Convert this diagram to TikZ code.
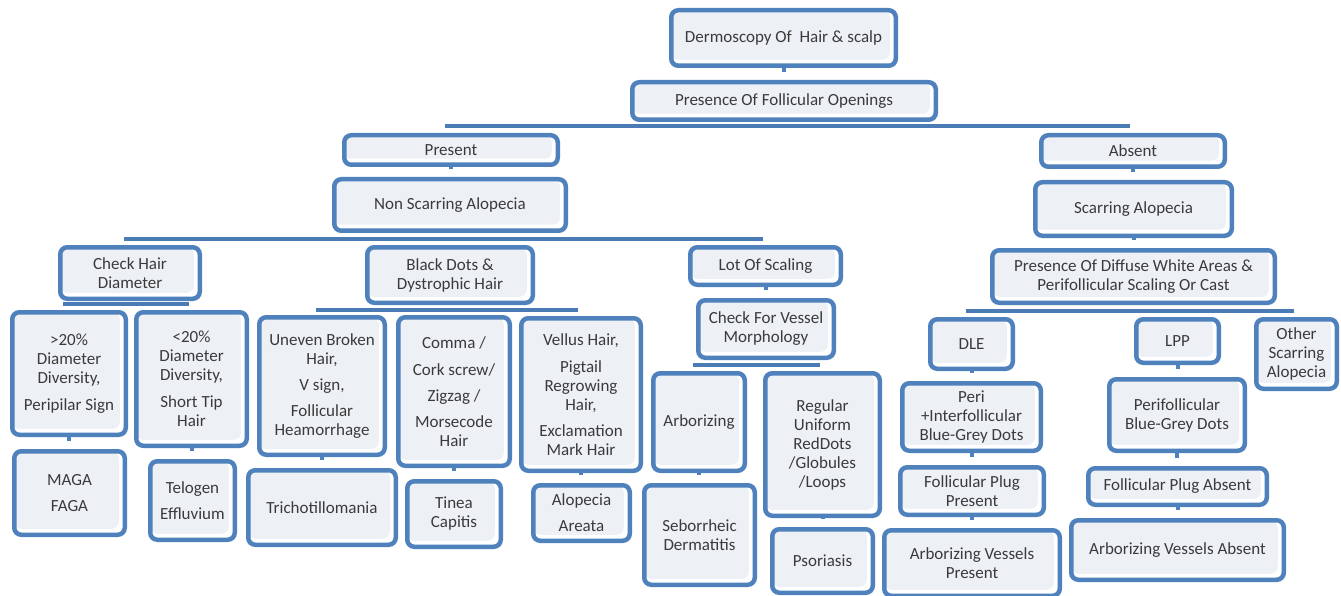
\documentclass[tikz,border=0pt]{standalone}
\usepackage{fontspec}
\setmainfont{Carlito}
\usetikzlibrary{calc}
\definecolor{bblue}{HTML}{4F81BD}
\definecolor{barblue}{HTML}{4A7BB5}
\definecolor{bfill}{HTML}{EDF1F6}
\definecolor{tgray}{HTML}{3A3A3A}
\tikzset{
  box/.style={draw=bblue, line width=4.5pt, rounded corners=7pt, fill=white,
    path picture={\fill[bfill] (path picture bounding box.north west) rectangle ([xshift=-6pt,yshift=6pt]path picture bounding box.south east);},
    align=center, text=tgray, inner sep=0pt, font=\fontsize{17}{19}\selectfont},
  conn/.style={draw=barblue, line width=4pt},
  stub/.style={draw=bblue, line width=4pt, shorten >=8pt}
}
\newcommand\mybox[6]{\node[box, minimum width={(#4-#2-4.5)*1pt}, minimum height={(#5-#3-4.5)*1pt}] (#1) at ({(#2+#4)/2},{(#3+#5)/2}) {#6};}
\newcommand\mystub[2]{\draw[stub] (#1.south) -- (#1.south |- #2.north);}
\newcommand\mybar[4]{\coordinate (#1-b) at ([yshift=-#2pt]#1.south);
  \draw[conn] ($(#1-b -| #3)+(-6,0)$) -- ($(#1-b -| #4)+(-3,0)$);}
\begin{document}
\begin{tikzpicture}[x=1pt,y=-1pt]
\useasboundingbox (0,0) rectangle (1341,596);
% top
\mybox{derm}{669}{8}{898}{68}{Dermoscopy Of~ Hair \& scalp}
\mybox{pfo}{630}{80}{938}{122}{Presence Of Follicular Openings}
\mybox{present}{342}{133}{560}{167}{Present}
\mybox{nsa}{332}{177}{568}{233}{Non Scarring Alopecia}
\mybox{absent}{1039}{133}{1227}{169}{Absent}
\mybox{sca}{1033}{180}{1234}{238}{Scarring Alopecia}
\mybox{pdw}{990}{248}{1277}{305}{Presence Of Diffuse White Areas \&\\Perifollicular Scaling Or Cast}
% non scarring branch
\mybox{chd}{58}{245}{202}{301}{Check Hair\\Diameter}
\mybox{bdd}{365}{245}{535}{305}{Black Dots \&\\Dystrophic Hair}
\mybox{los}{688}{245}{843}{287}{Lot Of Scaling}
\mybox{cvm}{696}{298}{836}{360}{Check For Vessel\\Morphology}
\mybox{gt20}{10}{310}{128}{437}{>20\%\\Diameter\\Diversity,\\[8pt]Peripilar Sign}
\mybox{maga}{12}{449}{127}{537}{MAGA\\[7pt]FAGA}
\mybox{lt20}{134}{310}{249}{448}{<20\%\\Diameter\\Diversity,\\[8pt]Short Tip\\Hair}
\mybox{telogen}{148}{459}{237}{542}{Telogen\\[7pt]Effluvium}
\mybox{ubh}{257}{315}{387}{457}{Uneven Broken\\Hair,\\[7pt]V sign,\\[7pt]Follicular\\Heamorrhage}
\mybox{trich}{246}{468}{398}{547}{Trichotillomania}
\mybox{comma}{396}{315}{512}{468}{Comma /\\[8pt]Cork screw/\\[7pt]Zigzag /\\[7pt]Morsecode\\Hair}
\mybox{tinea}{405}{479}{503}{549}{Tinea\\Capitis}
\mybox{vellus}{519}{316}{643}{473}{Vellus Hair,\\[8pt]Pigtail\\Regrowing\\Hair,\\[7pt]Exclamation\\Mark Hair}
\mybox{aa}{531}{483}{632}{543}{Alopecia\\[7pt]Areata}
\mybox{arb}{651}{371}{747}{473}{Arborizing}
\mybox{sd}{642}{483}{757}{587}{Seborrheic\\Dermatitis}
\mybox{reg}{763}{371}{882}{518}{Regular\\Uniform\\RedDots\\/Globules\\/Loops}
\mybox{pso}{770}{527}{875}{595}{Psoriasis}
% scarring branch
\mybox{dle}{928}{317}{1015}{371}{DLE}
\mybox{lpp}{1134}{317}{1221}{365}{LPP}
\mybox{other}{1254}{317}{1339}{391}{Other\\Scarring\\Alopecia}
\mybox{peri}{900}{381}{1043}{453}{Peri\\+Interfollicular\\Blue-Grey Dots}
\mybox{fpp}{898}{465}{1046}{517}{Follicular Plug\\Present}
\mybox{avp}{882}{528}{1062}{598}{Arborizing Vessels\\Present}
\mybox{pbg}{1107}{377}{1247}{453}{Perifollicular\\Blue-Grey Dots}
\mybox{fpa}{1086}{466}{1269}{507}{Follicular Plug Absent}
\mybox{ava}{1069}{518}{1286}{582}{Arborizing Vessels Absent}
% stubs
\mystub{derm}{pfo}
\mystub{present}{nsa}
\mystub{absent}{sca}
\mystub{sca}{pdw}
\mystub{los}{cvm}
\mystub{gt20}{maga}
\mystub{lt20}{telogen}
\mystub{ubh}{trich}
\mystub{comma}{tinea}
\mystub{vellus}{aa}
\mystub{arb}{sd}
\mystub{reg}{pso}
\mystub{dle}{peri}
\mystub{peri}{fpp}
\mystub{fpp}{avp}
\mystub{lpp}{pbg}
\mystub{pbg}{fpa}
\mystub{fpa}{ava}
% bars
\mybar{pfo}{4.3}{present}{absent}
\mybar{nsa}{6.3}{chd}{los}
\mybar{chd}{3}{gt20}{lt20}
\mybar{bdd}{4.5}{ubh}{vellus}
\mybar{cvm}{5}{arb}{reg}
\mybar{pdw}{5.5}{dle}{other}
\end{tikzpicture}
\end{document}
